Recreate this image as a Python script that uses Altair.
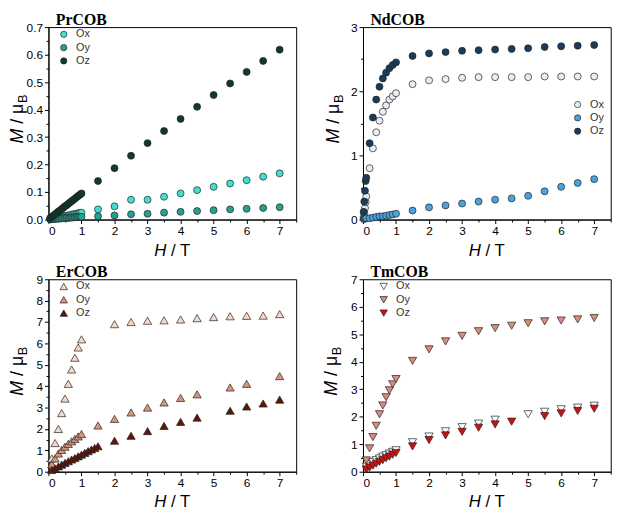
import altair as alt
import pandas as pd

# ---------------- data ----------------
SERIES = ["Ox", "Oy", "Oz"]

pr_h = [0.05, 0.1, 0.15, 0.2, 0.25, 0.3, 0.35, 0.4, 0.45, 0.5, 0.55, 0.6, 0.65, 0.7, 0.75, 0.8, 0.85, 0.9, 0.95, 1.0,
        1.5, 2.0, 2.5, 3.0, 3.5, 4.0, 4.5, 5.0, 5.5, 6.0, 6.5, 7.0]
pr_ox = [0.001, 0.003, 0.004, 0.005, 0.006, 0.008, 0.009, 0.010, 0.011, 0.013, 0.014, 0.015, 0.016, 0.018, 0.019, 0.020,
         0.021, 0.023, 0.024, 0.025, 0.037, 0.048, 0.072, 0.072, 0.083, 0.095, 0.107, 0.119, 0.131, 0.143, 0.156, 0.168]
pr_oy = [0.001, 0.001, 0.002, 0.002, 0.003, 0.003, 0.004, 0.004, 0.005, 0.005, 0.006, 0.006, 0.007, 0.007, 0.008, 0.008,
         0.009, 0.009, 0.010, 0.010, 0.012, 0.015, 0.019, 0.021, 0.025, 0.028, 0.031, 0.034, 0.037, 0.039, 0.042, 0.045]
pr_oz = [0.005, 0.010, 0.014, 0.019, 0.024, 0.029, 0.033, 0.038, 0.043, 0.048, 0.052, 0.057, 0.062, 0.067, 0.071, 0.076,
         0.081, 0.086, 0.090, 0.095, 0.140, 0.187, 0.232, 0.278, 0.322, 0.366, 0.410, 0.453, 0.495, 0.537, 0.577, 0.618]

nd_h = [0.02, 0.04, 0.06, 0.08, 0.1, 0.2, 0.3, 0.4, 0.5, 0.6, 0.7, 0.8, 0.9, 1.0,
        1.5, 2.0, 2.5, 3.0, 3.5, 4.0, 4.5, 5.0, 5.5, 6.0, 6.5, 7.0]
nd_ox = [0.04, 0.10, 0.18, 0.27, 0.36, 0.80, 1.11, 1.36, 1.54, 1.68, 1.78, 1.87, 1.92, 1.97,
         2.11, 2.17, 2.19, 2.21, 2.22, 2.22, 2.22, 2.22, 2.23, 2.23, 2.23, 2.23]
nd_oy = [0.01, 0.01, 0.02, 0.02, 0.02, 0.02, 0.03, 0.04, 0.05, 0.05, 0.06, 0.07, 0.08, 0.09,
         0.14, 0.19, 0.22, 0.25, 0.28, 0.31, 0.33, 0.37, 0.44, 0.51, 0.57, 0.63]
nd_oz = [0.12, 0.28, 0.45, 0.60, 0.65, 1.19, 1.59, 1.87, 2.07, 2.20, 2.29, 2.36, 2.41, 2.45,
         2.55, 2.59, 2.61, 2.63, 2.64, 2.65, 2.66, 2.67, 2.69, 2.70, 2.71, 2.72]

er_h = [0.1, 0.2, 0.3, 0.4, 0.5, 0.6, 0.7, 0.8, 0.9, 1.0, 1.1, 1.2, 1.3, 1.4,
        1.5, 2.0, 2.5, 3.0, 3.5, 4.0, 4.5, 5.0, 5.5, 6.0, 6.5, 7.0]
er_ox = [0.62, 1.34, 2.00, 2.74, 3.42, 4.11, 4.78, 5.33, 5.81, 6.19, None, None, None, None,
         None, 6.90, 7.00, 7.06, 7.08, 7.12, 7.18, 7.23, 7.27, 7.29, 7.30, 7.37]
er_oy = [0.35, 0.62, 0.85, 1.02, 1.17, 1.30, 1.42, 1.53, 1.65, 1.76, None, None, None, None,
         2.16, 2.47, 2.77, 3.00, 3.24, 3.45, 3.62, None, 3.94, 4.11, None, 4.47]
er_oz = [0.08, 0.16, 0.25, 0.33, 0.41, 0.49, 0.57, 0.64, 0.72, 0.80, 0.88, 0.96, 1.04, 1.11,
         1.19, 1.45, 1.68, 1.90, 2.14, 2.33, 2.53, None, 2.85, 3.05, 3.19, 3.37]

tm_h = [0.1, 0.2, 0.3, 0.4, 0.5, 0.6, 0.7, 0.8, 0.9, 1.0,
        1.5, 2.0, 2.5, 3.0, 3.5, 4.0, 4.5, 5.0, 5.5, 6.0, 6.5, 7.0]
tm_ox = [0.18, 0.27, 0.35, 0.42, 0.48, 0.55, 0.60, 0.66, 0.72, 0.78,
         1.07, 1.28, 1.47, 1.62, 1.75, 1.89, None, 2.09, 2.18, 2.27, 2.33, 2.40]
tm_oy = [0.41, 0.85, 1.26, 1.67, 2.09, 2.41, 2.71, 2.96, 3.18, 3.37,
         4.03, 4.45, 4.74, 4.94, 5.11, 5.22, 5.31, 5.40, 5.47, 5.50, 5.54, 5.59]
tm_oz = [0.08, 0.15, 0.22, 0.29, 0.36, 0.42, 0.49, 0.55, 0.62, 0.68,
         0.92, 1.15, 1.32, 1.45, 1.60, 1.72, 1.82, None, 2.02, 2.12, 2.21, 2.29]

x_major = [0, 1, 2, 3, 4, 5, 6, 7]
x_minor = [0.5, 1.5, 2.5, 3.5, 4.5, 5.5, 6.5, 7.5]
pr_ymajor = [0.0, 0.1, 0.2, 0.3, 0.4, 0.5, 0.6, 0.7]
pr_yminor = [0.05, 0.15, 0.25, 0.35, 0.45, 0.55, 0.65]
nd_ymajor = [0, 1, 2, 3]
nd_yminor = [0.5, 1.5, 2.5]
er_ymajor = [0, 1, 2, 3, 4, 5, 6, 7, 8, 9]
er_yminor = [0.5, 1.5, 2.5, 3.5, 4.5, 5.5, 6.5, 7.5, 8.5]
tm_ymajor = [0, 1, 2, 3, 4, 5, 6, 7]
tm_yminor = [0.5, 1.5, 2.5, 3.5, 4.5, 5.5, 6.5]

pr_colors = ["#3fe0cf", "#27a08f", "#0e3a2f"]
nd_colors = ["#e9edf3", "#4aa3df", "#1b3b5a"]
er_colors = ["#f5d9c8", "#d8957a", "#5e1508"]
tm_colors = ["#ffffff", "#d88c7c", "#d01010"]

# ---------------- helpers ----------------
W, HT = 251, 195
ONE = pd.DataFrame({"k": [0]})
SANS = "Liberation Sans"
SERIF = "Liberation Serif"


def frame(h, ox, oy, oz):
    rows = []
    for name, vals in zip(SERIES, [ox, oy, oz]):
        for x, m in zip(h, vals):
            if m is not None:
                rows.append({"H": x, "M": m, "s": name})
    return pd.DataFrame(rows)


def txt(text, x, y, **kw):
    return alt.Chart(ONE).mark_text(text=text, color="black", **kw).encode(
        x=alt.value(x), y=alt.value(y))


def panel(title, df, ymax, ymajor, yminor, yfmt, colors, shape, size, lx, ly, ytx, xty):
    xs = alt.Scale(domain=[0, 7.5], nice=False, zero=False)
    ys = alt.Scale(domain=[0, ymax], nice=False)
    base = alt.Chart(df)
    minor = base.mark_point(opacity=0).encode(
        x=alt.X("H:Q", scale=xs, axis=alt.Axis(values=x_minor, labels=False, tickSize=2.5, domain=False,
                                              grid=False, title=None, orient="bottom")),
        y=alt.Y("M:Q", scale=ys, axis=alt.Axis(values=yminor, labels=False, tickSize=2.5, domain=False,
                                              grid=False, title=None, orient="left")),
    )
    pts = base.mark_point(filled=True, shape=shape, size=size, stroke="#222222", strokeWidth=0.7,
                          opacity=1, fillOpacity=1).encode(
        x=alt.X("H:Q", scale=xs, axis=alt.Axis(values=x_major, format="d", title=None, orient="bottom")),
        y=alt.Y("M:Q", scale=ys, axis=alt.Axis(values=ymajor, format=yfmt, title=None, orient="left")),
        color=alt.Color("s:N", scale=alt.Scale(domain=SERIES, range=colors),
                        legend=alt.Legend(title=None, orient="none", legendX=lx, legendY=ly,
                                          symbolType=shape, symbolSize=size * 0.8)),
    )
    # y title: M / muB (rotated), x title: H / T
    yb = 118
    texts = [
        txt("M", ytx, yb, angle=270, align="left", baseline="middle", font=SANS, fontSize=18, fontStyle="italic"),
        txt("/ \u03bc", ytx, yb, angle=270, align="left", baseline="middle", font=SANS, fontSize=18, dx=20),
        txt("B", ytx, yb, angle=270, align="left", baseline="middle", font=SANS, fontSize=13, dx=41, dy=5),
        txt("H", W / 2 - 18.4, HT + xty, align="left", baseline="alphabetic", font=SANS, fontSize=17,
            fontStyle="italic"),
        txt("/ T", W / 2 - 18.4 + 17.0, HT + xty, align="left", baseline="alphabetic", font=SANS, fontSize=17),
        txt(title, 7.5, -15.5, align="left", baseline="top", font=SERIF, fontSize=16, fontWeight="bold"),
    ]
    return alt.layer(minor, pts, *texts).resolve_axis(x="independent", y="independent").properties(
        width=W, height=HT)


pr = panel("PrCOB", frame(pr_h, pr_ox, pr_oy, pr_oz), 0.7, pr_ymajor, pr_yminor, ".1f", pr_colors,
           "circle", 50, 10, 1.8, -31, 37)
nd = panel("NdCOB", frame(nd_h, nd_ox, nd_oy, nd_oz), 3, nd_ymajor, nd_yminor, "d", nd_colors,
           "circle", 50, 212, 73, -29, 37)
er = panel("ErCOB", frame(er_h, er_ox, er_oy, er_oz), 9, er_ymajor, er_yminor, "d", er_colors,
           "triangle-up", 70, 10, 1.8, -31, 36)
tm = panel("TmCOB", frame(tm_h, tm_ox, tm_oy, tm_oz), 7, tm_ymajor, tm_yminor, "d", tm_colors,
           "triangle-down", 70, 15.5, 1.8, -31, 36)

RES = dict(color="independent", x="independent", y="independent")
top = alt.hconcat(pr, nd, spacing=27.7).resolve_scale(**RES)
bottom = alt.hconcat(er, tm, spacing=25.7).resolve_scale(**RES)
chart = alt.vconcat(top, bottom, spacing=3.5).resolve_scale(**RES).properties(
    padding={"left": 0, "top": 0, "right": 0, "bottom": 0}
).configure_view(
    stroke="black", strokeWidth=1
).configure_axis(
    domainColor="black", domainWidth=1, tickColor="black", tickWidth=1, tickSize=4,
    labelFont=SANS, labelFontSize=12, labelColor="black", labelPadding=2, grid=False,
).configure_legend(
    labelFont=SANS, labelFontSize=11, labelColor="#333333", rowPadding=1.5, padding=0,
    labelOffset=7, symbolStrokeColor="#222222", symbolStrokeWidth=0.7,
)

chart.save("out.html", embed_options={"renderer": "svg", "actions": False})
